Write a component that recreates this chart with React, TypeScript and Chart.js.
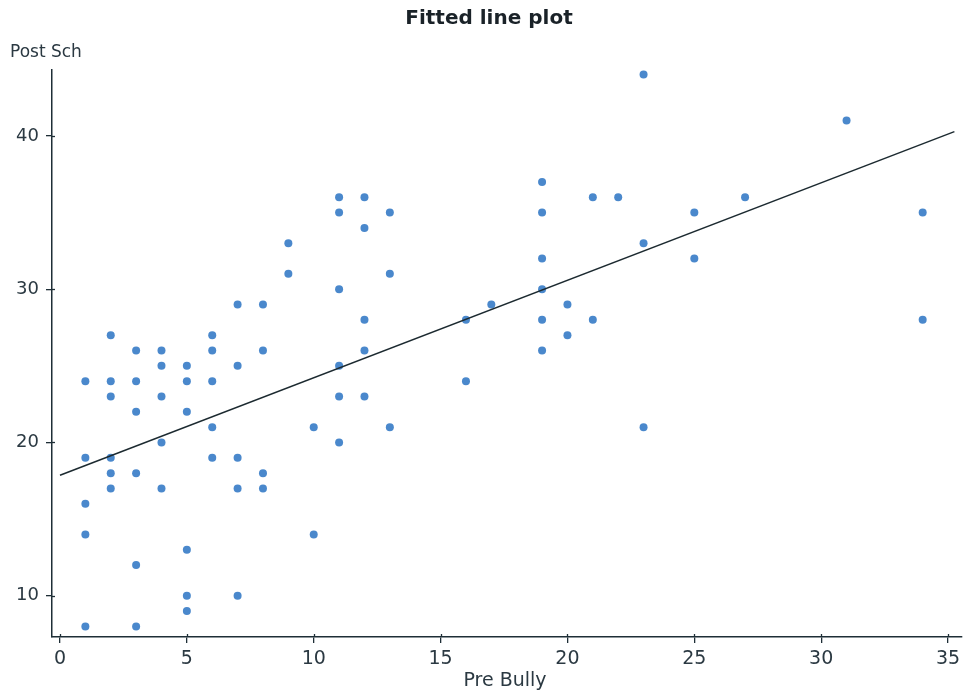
import React, { useEffect, useRef } from "react";
import { Chart, registerables } from "chart.js";

Chart.register(...registerables);

const preBully = [
  1, 1, 1, 1, 1,
  2, 2, 2, 2, 2, 2,
  3, 3, 3, 3, 3, 3,
  4, 4, 4, 4, 4,
  5, 5, 5, 5, 5, 5,
  6, 6, 6, 6, 6,
  7, 7, 7, 7, 7,
  8, 8, 8, 8,
  9, 9,
  10, 10,
  11, 11, 11, 11, 11, 11,
  12, 12, 12, 12, 12,
  13, 13, 13,
  16, 16,
  17,
  19, 19, 19, 19, 19, 19,
  20, 20,
  21, 21,
  22,
  23, 23, 23,
  25, 25,
  27,
  31,
  34, 34,
];
const postSch = [
  24, 19, 16, 14, 8,
  27, 24, 23, 19, 18, 17,
  26, 24, 22, 18, 12, 8,
  26, 25, 23, 20, 17,
  25, 24, 22, 13, 10, 9,
  27, 26, 24, 21, 19,
  29, 25, 19, 17, 10,
  29, 26, 18, 17,
  33, 31,
  21, 14,
  36, 35, 30, 25, 23, 20,
  36, 34, 28, 26, 23,
  35, 31, 21,
  28, 24,
  29,
  37, 35, 32, 30, 28, 26,
  29, 27,
  36, 28,
  36,
  44, 33, 21,
  35, 32,
  36,
  41,
  35, 28,
];

// Fitted line end points
const fitX = [0, 35.25];
const fitY = [17.86, 40.28];

const xTickStep = 5;
const yTickStep = 10;

const titleText = "Fitted line plot";
const xAxisTitle = "Pre Bully";
const yAxisTitle = "Post Sch";

const AXIS_COLOR = "#1e2e36";
const TEXT_COLOR = "#2b3942";
const FONT = "'DejaVu Sans', sans-serif";

export default function App() {
  const ref = useRef<HTMLCanvasElement | null>(null);

  useEffect(() => {
    document.body.style.margin = "0";
    document.body.style.overflow = "hidden";
    const canvas = ref.current;
    if (!canvas) return;

    const textPlugin = {
      id: "texts",
      afterDraw(chart: any) {
        const ctx = chart.ctx as CanvasRenderingContext2D;
        const xs = chart.scales.x;
        const ys = chart.scales.y;
        const area = chart.chartArea;
        ctx.save();
        // inner halves of the tick marks
        ctx.strokeStyle = AXIS_COLOR;
        ctx.lineWidth = 1.3;
        xs.ticks.forEach((t: any) => {
          const px = Math.round(xs.getPixelForValue(t.value)) + 0.5;
          ctx.beginPath();
          ctx.moveTo(px, area.bottom);
          ctx.lineTo(px, area.bottom - 3);
          ctx.stroke();
        });
        ys.ticks.forEach((t: any) => {
          const py = Math.round(ys.getPixelForValue(t.value)) + 0.5;
          ctx.beginPath();
          ctx.moveTo(area.left, py);
          ctx.lineTo(area.left + 3, py);
          ctx.stroke();
        });
        ctx.fillStyle = "#1a2228";
        ctx.textBaseline = "middle";
        ctx.font = `bold 20px ${FONT}`;
        ctx.textAlign = "center";
        ctx.fillText(titleText, 489, 19);
        ctx.fillStyle = TEXT_COLOR;
        ctx.font = `19px ${FONT}`;
        ctx.fillText(xAxisTitle, 505, 681);
        ctx.font = `17px ${FONT}`;
        ctx.textAlign = "left";
        ctx.fillText(yAxisTitle, 10, 53);
        ctx.restore();
      },
    };

    const scatterPoints = preBully.map((x, i) => ({ x, y: postSch[i] }));
    const linePoints = fitX.map((x, i) => ({ x, y: fitY[i] }));

    const chart = new Chart(canvas, {
      type: "scatter",
      data: {
        datasets: [
          {
            type: "line",
            label: "Fit",
            data: linePoints,
            borderColor: "#1c2a30",
            borderWidth: 1.5,
            pointRadius: 0,
            showLine: true,
            fill: false,
            order: 0,
          } as any,
          {
            label: "Data",
            data: scatterPoints,
            backgroundColor: "#4a88cc",
            borderColor: "#4a88cc",
            borderWidth: 0,
            pointRadius: 4,
            order: 1,
          },
        ],
      },
      options: {
        animation: false,
        responsive: false,
        devicePixelRatio: 1,
        layout: { padding: { top: 70, right: 2, left: 0, bottom: 0 } },
        plugins: {
          legend: { display: false },
          title: { display: false },
          tooltip: { enabled: false },
        },
        scales: {
          x: {
            type: "linear",
            position: "bottom",
            min: -0.315,
            max: 35.55,
            afterFit: (s: any) => {
              s.height = 57;
              s.paddingLeft = 0;
              s.paddingRight = 0;
            },
            ticks: {
              stepSize: xTickStep,
              includeBounds: false,
              autoSkip: false,
              maxRotation: 0,
              padding: 5,
              color: TEXT_COLOR,
              font: { family: FONT, size: 19 },
            },
            grid: {
              display: true,
              drawOnChartArea: false,
              drawTicks: true,
              tickLength: 6,
              color: AXIS_COLOR,
              lineWidth: 1.3,
            },
            border: { display: true, color: AXIS_COLOR, width: 1.5 },
          },
          y: {
            type: "linear",
            position: "left",
            min: 7.31,
            max: 44.3,
            afterFit: (s: any) => {
              s.width = 52;
              s.paddingTop = 0;
              s.paddingBottom = 0;
            },
            ticks: {
              stepSize: yTickStep,
              includeBounds: false,
              autoSkip: false,
              padding: 7,
              color: TEXT_COLOR,
              font: { family: FONT, size: 18 },
            },
            grid: {
              display: true,
              drawOnChartArea: false,
              drawTicks: true,
              tickLength: 6,
              color: AXIS_COLOR,
              lineWidth: 1.3,
            },
            border: { display: true, color: AXIS_COLOR, width: 1.5 },
          },
        },
      },
      plugins: [textPlugin],
    });

    return () => {
      chart.destroy();
    };
  }, []);

  return (
    <div style={{ width: 966, height: 694, background: "#fff" }}>
      <canvas ref={ref} width={966} height={694} style={{ display: "block" }} />
    </div>
  );
}
